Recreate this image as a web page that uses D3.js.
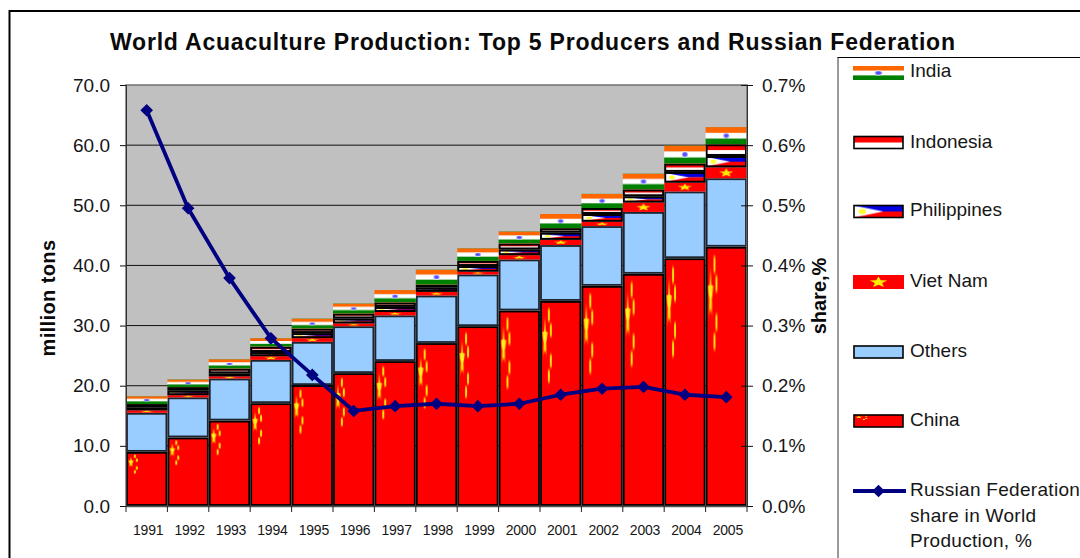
<!DOCTYPE html>
<html><head><meta charset="utf-8">
<script src="https://cdn.jsdelivr.net/npm/d3@7/dist/d3.min.js"></script>
<style>
html,body{margin:0;padding:0;background:#fff}
svg{display:block;font-family:"Liberation Sans",Arial,sans-serif;fill:#111}
</style></head><body><svg id="c" width="1080" height="558"></svg>
<script>
const titleText = "World Acuaculture Production: Top 5 Producers and Russian Federation";
const years = [1991,1992,1993,1994,1995,1996,1997,1998,1999,2000,2001,2002,2003,2004,2005];
const china       = [9.0,11.4,14.2,17.1,20.1,22.1,24.1,27.1,29.9,32.5,34.1,36.6,38.6,41.2,43.1];
const others      = [6.5,6.67,7.0,7.2,7.2,7.8,7.6,7.9,8.6,8.5,9.3,9.95,10.3,11.1,11.4];
const vietNam     = [0.4,0.35,0.35,0.6,0.6,0.45,0.55,0.6,0.45,0.7,0.85,0.7,1.55,1.45,1.8];
const philippines = [0.5,0.75,0.5,0.7,0.85,0.83,0.85,0.7,0.95,0.95,1.2,1.3,1.05,1.8,1.9];
const indonesia   = [0.55,0.6,0.8,0.9,0.75,0.83,0.75,0.5,0.85,1.0,0.75,1.0,1.15,1.4,1.95];
const india       = [1.3,1.27,1.55,1.4,1.66,1.66,2.05,2.5,2.1,2.0,2.35,2.35,2.6,3.0,2.85];
const russiaShare = [0.658,0.495,0.379,0.279,0.218,0.158,0.166,0.170,0.166,0.170,0.185,0.195,0.198,0.185,0.181];
const leftTicks  = [0,10,20,30,40,50,60,70];
const rightTicks = [0,0.1,0.2,0.3,0.4,0.5,0.6,0.7];
const seriesKeys = ["China","Others","Viet Nam","Philippines","Indonesia","India"];
const seriesVals = [china,others,vietNam,philippines,indonesia,india];
const legendOrder = ["India","Indonesia","Philippines","Viet Nam","Others","China"];
const legendLine = ["Russian Federation","share in World","Production, %"];

const W=1080,H=558,L=126,R=747,T=85,B=506;
const svg=d3.select("#c");
const defs=svg.append("defs");
const fid=k=>"f-"+k.replace(/\s+/g,"");

function starPts(cx,cy,rx,ry){
  const p=[];
  for(let i=0;i<10;i++){
    const a=-Math.PI/2+i*Math.PI/5, k=i%2?0.42:1;
    p.push([cx+Math.cos(a)*rx*k,cy+Math.sin(a)*ry*k].join(","));
  }
  return p.join(" ");
}
const glow=defs.append("radialGradient").attr("id","glow");
glow.append("stop").attr("offset","0").attr("stop-color","#ffff30");
glow.append("stop").attr("offset","0.65").attr("stop-color","#ffd000");
glow.append("stop").attr("offset","1").attr("stop-color","#ff2000");
const chak=defs.append("radialGradient").attr("id","chak");
chak.append("stop").attr("offset","0").attr("stop-color","#3c3cff");
chak.append("stop").attr("offset","0.6").attr("stop-color","#6a6aff");
chak.append("stop").attr("offset","1").attr("stop-color","#ffffff");

function pat(id){
  return defs.append("pattern").attr("id",id)
    .attr("patternUnits","objectBoundingBox").attr("patternContentUnits","objectBoundingBox")
    .attr("width",1).attr("height",1).attr("preserveAspectRatio","none");
}
function band(g,y,h,c){g.append("rect").attr("x",0).attr("y",y).attr("width",1).attr("height",h).attr("fill",c);}

let g=pat(fid("China")); band(g,0,1,"#ff0000");
g.append("polygon").attr("points",starPts(0.10,0.185,0.085,0.12)).attr("fill","url(#glow)");
[[0.20,0.065],[0.25,0.14],[0.25,0.29],[0.20,0.365]].forEach(d=>
  g.append("ellipse").attr("cx",d[0]).attr("cy",d[1]).attr("rx",0.03).attr("ry",0.045).attr("fill","url(#glow)"));
g=pat(fid("Others")); band(g,0,1,"#99ccff");
g=pat(fid("Viet Nam")); band(g,0,1,"#ff0000");
g.append("polygon").attr("points",starPts(0.5,0.52,0.18,0.42)).attr("fill","#ffee00");
g=pat(fid("Philippines")); band(g,0,0.5,"#0000e0"); band(g,0.5,0.5,"#ff0000");
g.append("polygon").attr("points","0,0 0.6,0.5 0,1").attr("fill","#ffffff");
g.append("ellipse").attr("cx",0.17).attr("cy",0.5).attr("rx",0.075).attr("ry",0.22).attr("fill","#ffff30");
g=pat(fid("Indonesia")); band(g,0,0.5,"#ff0000"); band(g,0.5,0.5,"#ffffff");
g=pat(fid("India")); band(g,0,0.34,"#ff6600"); band(g,0.34,0.33,"#ffffff"); band(g,0.67,0.33,"#008000");
g.append("ellipse").attr("cx",0.5).attr("cy",0.5).attr("rx",0.085).attr("ry",0.17).attr("fill","url(#chak)");

const bordered={"China":1,"Others":1,"Philippines":1,"Indonesia":1};

const x=d3.scaleBand().domain(years).range([L,R]).padding(0);
const y=d3.scaleLinear().domain([0,70]).range([B,T]);
const y2=d3.scaleLinear().domain([0,0.7]).range([B,T]);

const rows=years.map((yr,i)=>{const o={year:yr};seriesKeys.forEach((k,j)=>o[k]=seriesVals[j][i]);return o;});
const stacked=d3.stack().keys(seriesKeys)(rows);

// outer frame
svg.append("path").attr("d",`M${W},11H9.5V${H}`).attr("fill","none").attr("stroke","#000").attr("stroke-width",2);

// title
svg.append("text").attr("x",110).attr("y",50).attr("font-size",23).attr("font-weight","bold")
  .attr("fill","#0a0a0a").attr("textLength",845).attr("lengthAdjust","spacing").text(titleText);

// plot background, gridlines
svg.append("rect").attr("x",L).attr("y",T).attr("width",R-L).attr("height",B-T).attr("fill","#c0c0c0");
svg.append("g").selectAll("line").data(leftTicks.filter(d=>d>0&&d<70)).join("line")
  .attr("x1",L).attr("x2",R).attr("y1",d=>y(d)).attr("y2",d=>y(d)).attr("stroke","#111").attr("stroke-width",1);

// stacked flag bars
const bars=svg.append("g");
stacked.forEach(s=>{
  const isB=bordered[s.key];
  bars.append("g").selectAll("rect").data(s).join("rect")
    .attr("x",d=>x(d.data.year)+(isB?1:0))
    .attr("width",x.bandwidth()-(isB?2:0))
    .attr("y",d=>y(d[1])+(isB?1:0))
    .attr("height",d=>Math.max(0.5,y(d[0])-y(d[1])-(isB?2:0)))
    .attr("fill",`url(#${fid(s.key)})`)
    .attr("stroke",isB?(s.key==="Others"?"#1c2430":"#000"):"none")
    .attr("stroke-width",isB?(s.key==="China"||s.key==="Others"?1.8:2):0);
});

// plot border
svg.append("path").attr("d",`M${L},${B}V${T}H${R}V${B}`).attr("fill","none").attr("stroke","#707070").attr("stroke-width",1.5);

// axes
function styleAxis(a){a.select(".domain").attr("stroke","#333");a.selectAll(".tick line").attr("stroke","#111");a.selectAll("text").attr("fill","#161616");}
const axL=svg.append("g").attr("transform",`translate(${L},0)`)
  .call(d3.axisLeft(y).tickValues(leftTicks).tickFormat(d3.format(".1f")).tickSize(6).tickPadding(10));
axL.attr("font-size",19).attr("font-family",null);styleAxis(axL);
const axR=svg.append("g").attr("transform",`translate(${R},0)`)
  .call(d3.axisRight(y2).tickValues(rightTicks).tickFormat(d=>d.toFixed(1)+"%").tickSize(6).tickPadding(9));
axR.attr("font-size",19).attr("font-family",null);styleAxis(axR);
axR.selectAll(".tick line").attr("x1",-6);
const axB=svg.append("g").attr("transform",`translate(0,${B})`)
  .call(d3.axisBottom(x).tickSize(0).tickPadding(19));
axB.attr("font-size",14).attr("font-family",null);styleAxis(axB);
axB.select(".domain").attr("stroke","#555").attr("stroke-width",1.5);
axB.selectAll("text").attr("dx",1.5).attr("letter-spacing","-0.2");
svg.append("g").selectAll("line").data(years.concat(["end"])).join("line")
  .attr("x1",d=>d==="end"?R:x(d)).attr("x2",d=>d==="end"?R:x(d))
  .attr("y1",B).attr("y2",B+6).attr("stroke","#222");

// axis titles
svg.append("text").attr("transform","translate(55,298) rotate(-90)").attr("text-anchor","middle")
  .attr("font-size",20).attr("font-weight","bold").attr("letter-spacing","0.4").attr("fill","#0a0a0a").text("million tons");
svg.append("text").attr("transform","translate(826,296) rotate(-90)").attr("text-anchor","middle")
  .attr("font-size",20).attr("font-weight","bold").attr("fill","#0a0a0a").text("share,%");

// Russian share line
const lineGen=d3.line().x((d,i)=>x(years[i])+x.bandwidth()/2).y(d=>y2(d));
svg.append("path").datum(russiaShare).attr("d",lineGen).attr("fill","none").attr("stroke","#000080")
  .attr("stroke-width",3.8).attr("stroke-linejoin","round");
const diamondPath=d3.symbol().type(d3.symbolSquare).size(80)();
svg.append("g").selectAll("path").data(russiaShare).join("path")
  .attr("transform",(d,i)=>`translate(${x(years[i])+x.bandwidth()/2},${y2(d)}) rotate(45)`)
  .attr("d",diamondPath).attr("fill","#000080");

// legend
svg.append("path").attr("d",`M838,${H}V57.5`).attr("fill","none").attr("stroke","#555").attr("stroke-width",1.2);
svg.append("path").attr("d",`M837.5,57.5H${W}`).attr("fill","none").attr("stroke","#000").attr("stroke-width",1.2);
const legY={"India":73,"Indonesia":142.5,"Philippines":211.5,"Viet Nam":282,"Others":352,"China":421};
const legText={"India":70,"Indonesia":141,"Philippines":209,"Viet Nam":280,"Others":350,"China":419};
const lg=svg.append("g");
legendOrder.forEach(k=>{
  const isB=bordered[k];
  lg.append("rect").attr("x",853+(isB?1:0)).attr("y",legY[k]-7+(isB?1:0))
    .attr("width",51-(isB?2:0)).attr("height",14-(isB?2:0))
    .attr("fill",`url(#${fid(k)})`).attr("stroke",isB?"#000":"none").attr("stroke-width",isB?1.6:0);
  lg.append("text").attr("x",910).attr("y",legText[k]).attr("dy","0.36em").attr("font-size",19).attr("fill","#161616").text(k);
});
lg.append("line").attr("x1",853).attr("x2",906).attr("y1",491).attr("y2",491).attr("stroke","#000080").attr("stroke-width",3.8);
lg.append("path").attr("transform","translate(878.5,491) rotate(45)").attr("d",diamondPath).attr("fill","#000080");
legendLine.forEach((t,i)=>lg.append("text").attr("x",910).attr("y",489+i*25.8).attr("dy","0.36em")
  .attr("font-size",19).attr("letter-spacing","0.3").attr("fill","#161616").text(t));
</script></body></html>
